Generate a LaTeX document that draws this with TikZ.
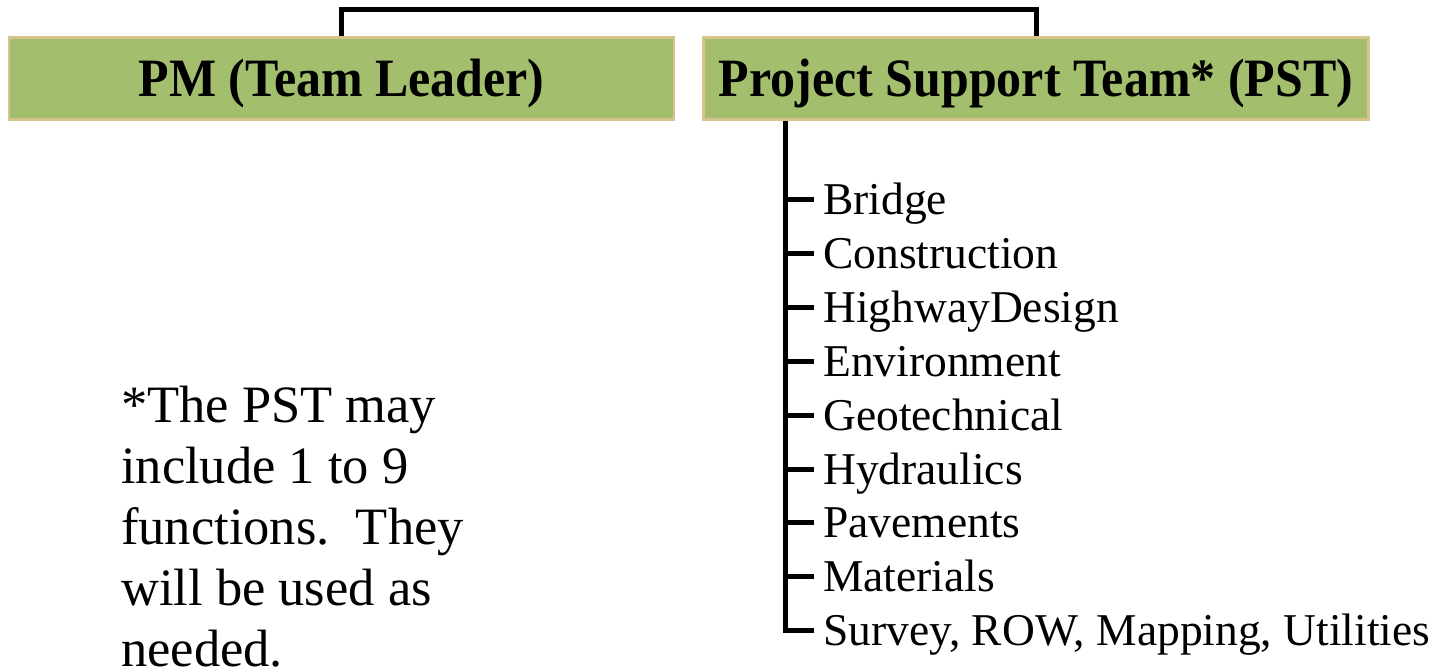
\documentclass[tikz,border=0pt]{standalone}
\usepackage{fontspec}
\setmainfont{Liberation Serif}
\newfontfamily\headfont[FakeStretch=0.925]{Liberation Serif}
\def \headsize{\fontsize{54}{60}\selectfont}
\def \itemsize{\fontsize{45.5}{54}\selectfont}
\def \notesize{\fontsize{52.5}{61}\selectfont}
\definecolor{boxgreen}{HTML}{A3BE6C}
\definecolor{boxrim}{HTML}{D6C48F}
\usetikzlibrary{positioning}

\tikzset{
  headbox/.style={draw=boxrim, line width=2.5pt, fill=boxgreen, inner sep=0pt,
    minimum width=665pt, minimum height=82pt, text height=36pt, text depth=0pt,
    font=\headfont\bfseries\headsize},
  link/.style={line width=5pt},
  itemtext/.style={anchor=west, inner sep=0pt, text height=30pt, text depth=0pt, font=\itemsize},
  notetext/.style={anchor=base west, inner sep=0pt, align=left, font=\notesize}
}

\begin{document}
\begin{tikzpicture}[x=1pt, y=-1pt]
\useasboundingbox (0,0) rectangle (1438,668);

% the two boxes
\node[headbox] (pm) at (341.5,78.5) {PM (Team Leader)};
\node[headbox] (pst) at (1036,78.5) {Project Support Team* (PST)};

% bracket over the boxes
\coordinate (top) at (0,9.5);
\draw[link] (pm.north) -- (pm.north |- top) -- (pst.north |- top) -- (pst.north);

% functions of the PST
\coordinate (spine) at (785,0);
\foreach \name [count=\i] in {Bridge, Construction, HighwayDesign, Environment,
    Geotechnical, Hydraulics, Pavements, Materials, {Survey, ROW, Mapping, Utilities}}
  \node[itemtext] (f\i) at (823,{200+53.8*(\i-1)}) {\name};
\foreach \i in {1,...,8}
  \draw[link] (spine |- f\i.west) -- ([xshift=-9pt]f\i.west);
\draw[link] (spine |- pst.south) -- (spine |- f9.west) -- ([xshift=-9pt]f9.west);

% footnote, last line cut by the page edge
\node[notetext] (note) at (121,666) {*The PST may\\include 1 to 9\\functions.\ \ They\\will be used as\\needed.};
\end{tikzpicture}
\end{document}
